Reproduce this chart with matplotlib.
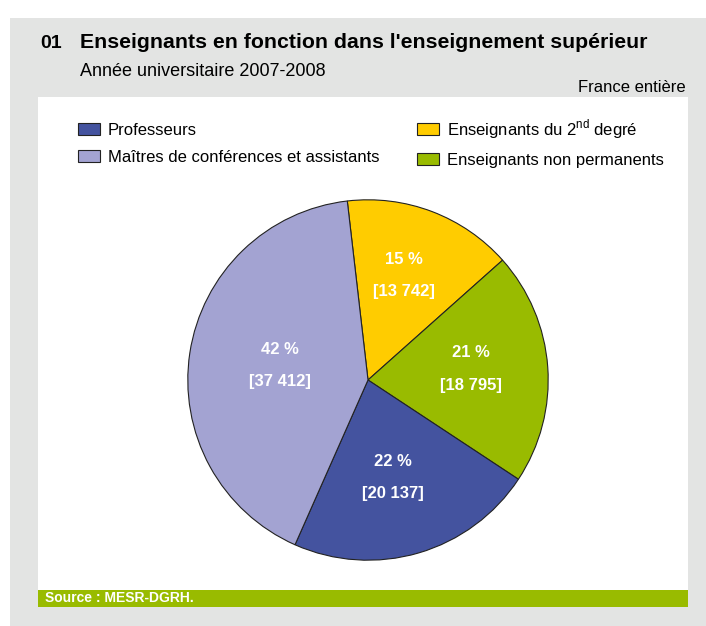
import matplotlib
matplotlib.use('Agg')
import matplotlib.pyplot as plt
from matplotlib.patches import Rectangle

plt.rcParams['font.family'] = ['Liberation Sans', 'DejaVu Sans']
plt.rcParams['mathtext.fontset'] = 'custom'
plt.rcParams['mathtext.rm'] = 'Liberation Sans'

# données (ordre de tracé dans le sens horaire à partir du haut)
categories = ['Enseignants du 2$^{\\rm nd}$ degré', 'Enseignants non permanents',
              'Professeurs', 'Maîtres de conférences et assistants']
effectifs = [13742, 18795, 20137, 37412]
pourcentages = ['15 %', '21 %', '22 %', '42 %']
effectifs_txt = ['[13 742]', '[18 795]', '[20 137]', '[37 412]']
couleurs = ['#ffcc00', '#99bb00', '#44539f', '#a3a3d2']

W, H = 706, 626
fig = plt.figure(figsize=(W / 100, H / 100), dpi=100)
fig.patch.set_facecolor('white')

# fonds
fig.patches.append(Rectangle((10 / W, 0), 1, 1 - 18 / H, transform=fig.transFigure,
                             facecolor='#e3e4e3', edgecolor='none', zorder=-2))
fig.patches.append(Rectangle((38 / W, 1 - 590 / H), 650 / W, 493 / H, transform=fig.transFigure,
                             facecolor='white', edgecolor='none', zorder=-1))
fig.patches.append(Rectangle((38 / W, 1 - 607 / H), 650 / W, 17 / H, transform=fig.transFigure,
                             facecolor='#99bb00', edgecolor='none', zorder=-1))

# titres
fig.text(40 / W, 1 - 43 / H, '01', fontsize=14, fontweight='bold', va='center')
fig.text(80 / W, 1 - 42 / H, "Enseignants en fonction dans l'enseignement supérieur",
         fontsize=15.3, fontweight='bold', va='center')
fig.text(80 / W, 1 - 72 / H, 'Année universitaire 2007-2008', fontsize=13, va='center')
fig.text(686 / W, 1 - 87 / H, 'France entière', fontsize=12, va='center', ha='right')
fig.text(45 / W, 1 - 598.5 / H, 'Source : MESR-DGRH.', fontsize=10, fontweight='bold',
         color='white', va='center')

# camembert
cx, cy, r = 368, 380, 182
ax = fig.add_axes([(cx - r) / W, (H - cy - r) / H, 2 * r / W, 2 * r / H], zorder=2)
ax.patch.set_visible(False)
wedges, _ = ax.pie(effectifs, colors=couleurs, startangle=96.6, counterclock=False,
                   radius=1, wedgeprops=dict(edgecolor='#222222', linewidth=0.8))
ax.set_xlim(-1.01, 1.01)
ax.set_ylim(-1.01, 1.01)
ax.set_aspect('equal')

pos_labels = [(0.20, 0.58), (0.57, 0.06), (0.14, -0.54), (-0.49, 0.08)]
for (x, y), p, n in zip(pos_labels, pourcentages, effectifs_txt):
    ax.text(x, y + 0.09, p, color='white', fontsize=12, fontweight='bold', ha='center', va='center')
    ax.text(x, y - 0.09, n, color='white', fontsize=12, fontweight='bold', ha='center', va='center')

# légende
ordre = [2, 3, 0, 1]
leg = fig.legend([wedges[i] for i in ordre], [categories[i] for i in ordre], ncol=2,
                 loc='upper left', bbox_to_anchor=(63 / W, 1 - 102 / H), frameon=False,
                 fontsize=12, handlelength=1.3, handleheight=0.72, handletextpad=0.5,
                 columnspacing=2.25, labelspacing=0.73)

fig.savefig('out.png', dpi=100)
